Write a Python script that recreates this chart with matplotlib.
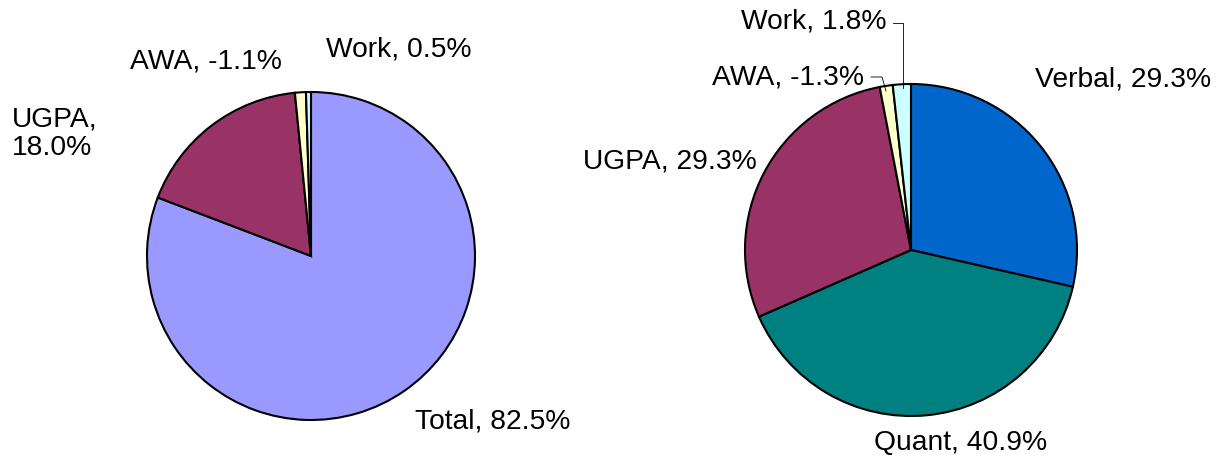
import matplotlib.pyplot as plt

plt.rcParams['font.family'] = ['Liberation Sans', 'DejaVu Sans']

# left pie: overall
left_names = ['Total', 'UGPA', 'AWA', 'Work']
left_values = [82.5, 18.0, -1.1, 0.5]
left_colors = ['#9999FF', '#993366', '#FFFFCC', '#CCFFFF']

# right pie: components
right_names = ['Verbal', 'Quant', 'UGPA', 'AWA', 'Work']
right_values = [29.3, 40.9, 29.3, -1.3, 1.8]
right_colors = ['#0066CC', '#008080', '#993366', '#FFFFCC', '#CCFFFF']

W, H = 1225, 462
fig = plt.figure(figsize=(12.25, 4.62), dpi=100)
ax = fig.add_axes([0, 0, 1, 1])


def py(y):
    # pixel row (from top) to data y
    return H - y


wp = dict(edgecolor='black', linewidth=1.5)
ax.pie([abs(v) for v in left_values], colors=left_colors, startangle=90,
       counterclock=False, center=(311, py(256)), radius=164, wedgeprops=wp)
ax.pie([abs(v) for v in right_values], colors=right_colors, startangle=90,
       counterclock=False, center=(911, py(250)), radius=166, wedgeprops=wp)

ax.set_xlim(0, W)
ax.set_ylim(0, H)
ax.set_aspect('equal')
ax.axis('off')

fs = 20.3


def lab(names, values, i, fmt="{}, {:.1f}%"):
    return fmt.format(names[i], values[i])


# left labels
ax.text(130, py(62), lab(left_names, left_values, 2), fontsize=fs, va='center', ha='left')
ax.text(326, py(50), lab(left_names, left_values, 3), fontsize=fs, va='center', ha='left')
ax.text(12, py(134), lab(left_names, left_values, 1, "{},\n{:.1f}%"), fontsize=fs,
        va='center', ha='left', linespacing=1.1)
ax.text(415, py(422), lab(left_names, left_values, 0), fontsize=fs, va='center', ha='left')

# right labels
ax.text(1035, py(80), lab(right_names, right_values, 0), fontsize=fs, va='center', ha='left')
ax.text(874, py(443), lab(right_names, right_values, 1), fontsize=fs, va='center', ha='left')
ax.text(583, py(162), lab(right_names, right_values, 2), fontsize=fs, va='center', ha='left')
ax.text(712, py(78), lab(right_names, right_values, 3), fontsize=fs, va='center', ha='left')
ax.text(741, py(22), lab(right_names, right_values, 4), fontsize=fs, va='center', ha='left')

# leader lines
ax.plot([893, 903, 903], [py(23), py(23), py(88)], color='black', lw=0.6)
ax.plot([871, 882, 886], [py(77), py(77), py(91)], color='black', lw=0.6)

fig.savefig('out.png', dpi=100)
